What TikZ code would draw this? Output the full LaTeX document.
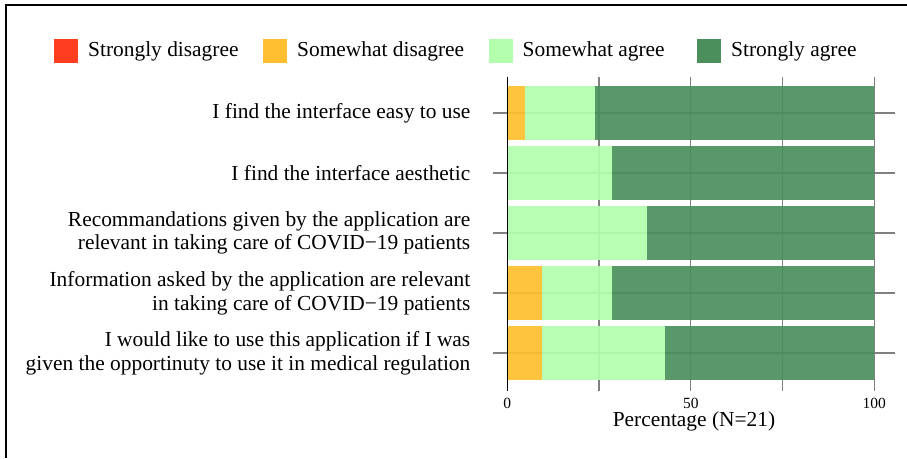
\documentclass[tikz,border=0pt]{standalone}
\usepackage{fontspec}
\setmainfont{Liberation Serif}
\definecolor{sdis}{HTML}{FF3D1F}
\definecolor{swdis}{HTML}{FFBF2E}
\definecolor{swagr}{HTML}{B3FFAD}
\definecolor{sagr}{HTML}{4A8F5C}
\definecolor{gridgray}{HTML}{808080}
\begin{document}
\begin{tikzpicture}[x=1pt,y=-1pt,
  lbl/.style={font=\fontsize{21.4}{23.7}\selectfont, inner sep=0pt, align=right, anchor=east},
  legtxt/.style={font=\fontsize{21.4}{23.7}\selectfont, inner sep=0pt, anchor=base west},
  ticklbl/.style={font=\fontsize{15.5}{17}\selectfont, inner sep=0pt, anchor=base},
  axtitle/.style={font=\fontsize{21.4}{23.7}\selectfont, inner sep=0pt, anchor=base},
  gridln/.style={draw=gridgray, line width=1.2pt},
  legbox/.style={minimum size=24pt, inner sep=0pt, anchor=north west},
  barseg/.style={fill opacity=0.92}
]
\useasboundingbox (0,0) rectangle (907,458);
% frame
\draw[line width=2pt] (6,458) -- (6,5) -- (907,5);

% legend
\node[legbox, fill=sdis]  (k1) at (54,39) {};
\node[legtxt] (t1) at (88,56.7) {Strongly disagree};
\node[legbox, fill=swdis] (k2) at (263,39) {};
\node[legtxt] (t2) at (297,56.7) {Somewhat disagree};
\node[legbox, fill=swagr] (k3) at (489,39) {};
\node[legtxt] (t3) at (522.5,56.7) {Somewhat agree};
\node[legbox, fill=sagr]  (k4) at (697,39) {};
\node[legtxt] (t4) at (731,56.7) {Strongly agree};

% grid lines
\foreach \k in {1,2,3,4}{
  \draw[gridln] ({507.3+91.75*\k},77) -- ({507.3+91.75*\k},391);
}
\foreach \r in {0,...,4}{
  \draw[gridln] (493,{113+60*\r}) -- (895,{113+60*\r});
}

% bars: row / strongly dis / somewhat dis / somewhat agree / strongly agree (counts of 21)
\foreach \r/\a/\b/\c/\d in {0/0/1/4/16, 1/0/0/6/15, 2/0/0/8/13, 3/0/2/4/15, 4/0/2/7/12}{
  \pgfmathsetmacro\yt{113+60*\r-27}
  \pgfmathsetmacro\yb{113+60*\r+27}
  \pgfmathsetmacro\xa{507.3}
  \pgfmathsetmacro\xb{507.3+367*\a/21}
  \pgfmathsetmacro\xc{507.3+367*(\a+\b)/21}
  \pgfmathsetmacro\xd{507.3+367*(\a+\b+\c)/21}
  \pgfmathsetmacro\xe{507.3+367*(\a+\b+\c+\d)/21}
  \fill[barseg, sdis]  (\xa,\yt) rectangle (\xb,\yb);
  \fill[barseg, swdis] (\xb,\yt) rectangle (\xc,\yb);
  \fill[barseg, swagr] (\xc,\yt) rectangle (\xd,\yb);
  \fill[barseg, sagr]  (\xd,\yt) rectangle (\xe,\yb);
}

% y axis line
\coordinate (ax0) at (507.3,77);
\coordinate (ax1) at (507.3,391);
\draw[line width=1.4pt] (ax0) -- (ax1);

% row labels
\node[lbl] (r1) at (470.5,113) {I find the interface easy to use};
\node[lbl] (r2) at (470.5,173) {I find the interface aesthetic};
\node[lbl] (r3) at (470.5,233) {Recommandations given by the application are\\relevant in taking care of COVID−19 patients};
\node[lbl] (r4) at (470.5,293) {Information asked by the application are relevant\\in taking care of COVID−19 patients};
\node[lbl] (r5) at (470.5,353) {I would like to use this application if I was\\given the opportinuty to use it in medical regulation};

% x tick labels and title
\node[ticklbl] (x0) at (507.3,408.3) {0};
\node[ticklbl] (x50) at (690.8,408.3) {50};
\node[ticklbl] (x100) at (874.3,408.3) {100};
\node[axtitle] (xt) at (694,426.7) {Percentage (N=21)};
\end{tikzpicture}
\end{document}
